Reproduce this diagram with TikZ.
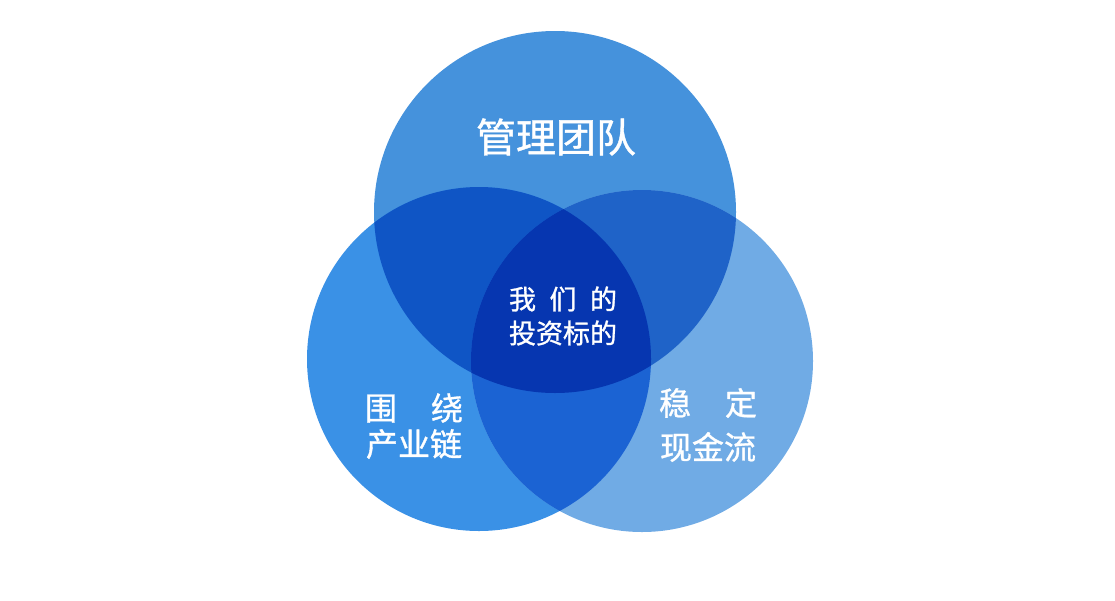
\documentclass[tikz,border=0pt]{standalone}
\usepackage{fontspec}
\newfontfamily\cjk[FakeBold=1]{Noto Sans CJK SC}
\definecolor{ctop}{HTML}{4592DC}
\definecolor{cleft}{HTML}{3A91E6}
\definecolor{cright}{HTML}{70ABE5}
\definecolor{ctl}{HTML}{0F55C5}
\definecolor{ctr}{HTML}{1F63C8}
\definecolor{clr}{HTML}{1B63D3}
\definecolor{call}{HTML}{0636B0}
\tikzset{lbl/.style={text=white,inner sep=0pt,font=\cjk}}
\begin{document}
\begin{tikzpicture}[x=1pt,y=-1pt]
\useasboundingbox (0,0) rectangle (1115,600);
\def\top{(555,212) circle[radius=181]}
\def\lft{(479,359) circle[radius=172]}
\def\rgt{(642,361) circle[radius=171]}
\fill[ctop] \top;
\fill[cleft] \lft;
\fill[cright] \rgt;
\begin{scope}\clip \top; \fill[ctl] \lft; \end{scope}
\begin{scope}\clip \top; \fill[ctr] \rgt; \end{scope}
\begin{scope}\clip \lft; \fill[clr] \rgt; \end{scope}
\begin{scope}\clip \top; \clip \lft; \fill[call] \rgt; \end{scope}
\node[lbl,font=\cjk\fontsize{40}{40}\selectfont] (t) at (556,137) {管理团队};
\node[lbl,font=\cjk\fontsize{27}{27}\selectfont] (c1) at (563,299) {\makebox[108pt]{我\hfill 们\hfill 的}};
\node[lbl,font=\cjk\fontsize{27}{27}\selectfont] (c2) at (563,333) {\makebox[108pt]{投资标的}};
\node[lbl,font=\cjk\fontsize{32}{32}\selectfont] (l1) at (414,408) {\makebox[98pt]{围\hfill 绕}};
\node[lbl,font=\cjk\fontsize{32}{32}\selectfont] (l2) at (414,444) {\makebox[98pt]{产业链}};
\node[lbl,font=\cjk\fontsize{32}{32}\selectfont] (r1) at (708,403) {\makebox[98pt]{稳\hfill 定}};
\node[lbl,font=\cjk\fontsize{32}{32}\selectfont] (r2) at (708,447) {\makebox[98pt]{现金流}};
\end{tikzpicture}
\end{document}
